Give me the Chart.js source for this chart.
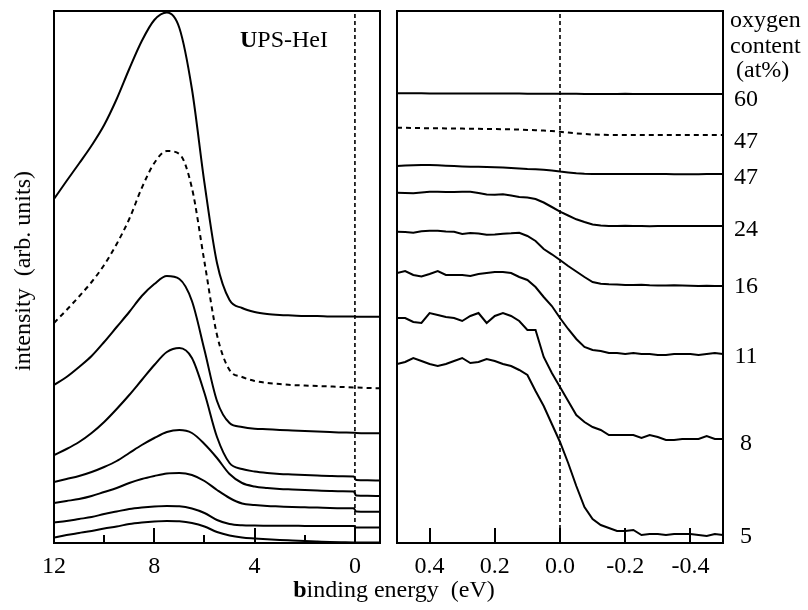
<!DOCTYPE html>
<html>
<head>
<meta charset="utf-8">
<script src="https://cdn.jsdelivr.net/npm/chart.js@4.4.4/dist/chart.umd.min.js"></script>
<style>
  body { margin: 0; background: #fff; width: 808px; height: 610px; position: relative; overflow: hidden;
         font-family: "Liberation Serif", "Times New Roman", serif; color: #000; }
  canvas { position: absolute; top: 0; }
  #chart-hei { left: 0; }
  #chart-fermi { left: 390px; }
  .txt { position: absolute; font-size: 24px; line-height: 1; white-space: pre; }
</style>
</head>
<body>
<canvas id="chart-hei" width="390" height="610"></canvas>
<canvas id="chart-fermi" width="418" height="610"></canvas>

<div class="txt" style="left:240px;top:27px"><b>U</b>PS-HeI</div>
<div class="txt" style="left:730px;top:7px">oxygen</div>
<div class="txt" style="left:730px;top:33px">content</div>
<div class="txt" style="left:736px;top:57px">(at%)</div>
<div class="txt" style="left:394px;top:577px;transform:translateX(-50%)"><b>b</b>inding energy  (eV)</div>
<div class="txt" style="left:22px;top:271px;transform:translate(-50%,-50%) rotate(-90deg)">intensity  (arb. units)</div>

<script>
// wide scan (UPS-HeI), binding energy in eV
const heiEnergy = [12, 11.5, 11, 10.5, 10, 9.5, 9, 8.5, 8, 7.5, 7, 6.5, 6, 5.5, 5, 4.5, 4, 3.5, 3, 2.5, 2, 1.5, 1, 0.5, 0.05, -0.05, -0.5, -1];
const hei60  = [344, 362, 379.5, 397.5, 418, 444, 474, 502, 523, 530.5, 515, 454, 360, 280, 243, 235, 231, 229, 228, 227.5, 227, 227, 226.5, 226.5, 226.5, 226.3, 226.3, 226.3];
const hei47d = [220, 233, 246.5, 261, 278, 299, 324, 355, 380, 392, 389, 355, 281, 208, 173, 166, 162, 160, 159, 158, 157.5, 157, 156.5, 156, 155.5, 155.5, 155, 154.7];
const hei47  = [158, 166, 176, 187, 201, 216, 231, 247, 259, 267, 264, 242, 193, 142, 120, 116, 114.3, 113.7, 113, 112.5, 112, 111.5, 111, 110.5, 110.3, 110, 109.7, 109.7];
const hei24  = [88, 94, 101, 110, 121, 134, 148, 163, 178, 191, 195, 185, 150, 106, 80, 74, 71.5, 70, 69, 68.5, 68, 67.5, 67, 66.7, 66.5, 63, 62.7, 62.5];
const hei16  = [61, 64, 67, 71, 76, 82, 90, 98, 105, 111, 113, 110, 99, 85, 69, 60, 56.5, 55, 54, 53.5, 53, 52.5, 52, 51.7, 51.5, 47.5, 47.2, 47];
const hei11  = [40, 42, 44, 47, 51, 55, 60, 64, 67, 69.5, 70, 68, 62, 53, 45, 39.5, 38, 37, 36.5, 36, 35.7, 35.4, 35, 34.8, 34.7, 31.5, 31.3, 31.3];
const hei8   = [20.5, 22, 24, 26, 29, 31.5, 34, 35.5, 36.5, 37, 36.7, 34.5, 30, 23, 19, 17.7, 17.4, 17.3, 17.2, 17.2, 17.1, 17.1, 17, 17, 17, 15.5, 15.5, 15.5];
const hei5   = [5.5, 8, 10, 12, 14.5, 16.5, 19, 20.5, 21.5, 22, 21.7, 20, 16.5, 11, 7.5, 5.5, 4.5, 3.7, 3, 2.5, 2, 1.5, 1, 0.7, 0.5, 0.5, 0.5, 0.5];

// Fermi edge region
const fermiEnergy = [0.5, 0.475, 0.45, 0.425, 0.4, 0.375, 0.35, 0.325, 0.3, 0.275, 0.25, 0.225, 0.2, 0.175, 0.15, 0.125, 0.1, 0.075, 0.05, 0.025, 0,
  -0.025, -0.05, -0.075, -0.1, -0.125, -0.15, -0.175, -0.2, -0.225, -0.25, -0.275, -0.3, -0.325, -0.35, -0.375, -0.4, -0.425, -0.45, -0.475, -0.5];
const fermi60  = [449.7, 449.7, 449.8, 449.7, 449.6, 449.5, 449.5, 449.6, 449.6, 449.5, 449.5, 449.4, 449.4, 449.5, 449.5, 449.4, 449.3, 449.3, 449.3, 449.2, 449.2,
  449.2, 449.2, 449.1, 449, 449, 449, 449.1, 449.2, 449.1, 449.1, 449, 449, 449, 449.1, 449.1, 449, 448.9, 448.9, 449, 449];
const fermi47d = [415.3, 415.2, 415, 414.9, 414.8, 414.7, 414.6, 414.5, 414.4, 414.3, 414.2, 414, 413.9, 413.8, 413.6, 413.4, 413.1, 412.8, 412.4, 412, 411.2,
  410.4, 409.6, 409, 408.5, 408.2, 408, 408, 408, 408, 408, 408, 408, 408, 408, 408, 408, 408, 408, 408, 408];
const fermi47  = [377, 377.5, 377.8, 378, 378, 377.7, 377.3, 377, 376.6, 376.3, 376.2, 376, 375.8, 375.5, 375, 374.5, 374, 373.7, 373.3, 372.6, 371.5,
  370.6, 369.8, 369.3, 369, 369, 369, 369, 369, 369, 369, 369, 369, 369, 368.8, 368.8, 368.8, 368.8, 369, 369, 369];
const fermi24  = [350.3, 350, 349.7, 350.5, 351.3, 351.2, 351, 351, 351.2, 351.3, 350, 348.5, 348.3, 348.8, 347.5, 346, 345.5, 344, 340.5, 336, 331.3,
  327.5, 323.7, 321, 318.5, 317.5, 317, 317, 317.3, 317, 317, 316.8, 317, 317, 317, 317, 317, 317, 317, 317, 317];
const fermi16  = [311.3, 311, 310.3, 311.8, 312.2, 312.3, 311.5, 311.3, 309, 310, 309.5, 308.3, 308.5, 309.3, 309.7, 310.3, 307, 302, 294, 288.7, 283,
  277, 271.5, 266, 261, 259.3, 258.7, 258.5, 258, 258, 258.3, 257.8, 257.5, 257.5, 257.8, 257.5, 257.3, 257, 257.2, 257, 257];
const fermi11  = [270, 272, 268, 266.5, 269, 272, 268, 268, 268, 267, 269, 270, 271, 271, 270, 266, 263, 256, 246, 237, 225,
  214, 204, 196, 193, 192, 190, 190, 189, 190, 189, 189, 188, 188, 189, 189, 189, 188, 189, 190, 189];
const fermi8   = [225, 225, 221, 220, 230, 228, 226, 225, 222, 227, 230, 220, 227, 230, 227, 222, 213, 213, 186, 170, 156,
  142, 128, 121, 116, 113, 108, 108, 108, 108, 105, 108, 106, 103, 103, 104, 104, 104, 107, 104, 104];
const fermi5   = [179, 181, 185, 182, 179, 177, 179, 182, 185, 180, 181, 184, 182, 179, 177, 173, 168, 152, 137, 119, 101,
  80, 57, 36, 24, 18, 15, 12, 12, 13, 8, 9, 9, 8, 9, 9, 9, 8, 7, 9, 8];

const heiTicks = [12, 8, 4, 0];
const heiTickLabels = ['12', '8', '4', '0'];
const heiMinor = [10, 6, 2];
const fermiTicks = [0.4, 0.2, 0, -0.2, -0.4];
const fermiTickLabels = ['0.4', '0.2', '0.0', '-0.2', '-0.4'];
const oxygenLabels = ['60', '47', '47', '24', '16', '11', '8', '5'];
const oxygenLevels = [443, 401.5, 365, 313, 256, 186, 99, 6];
const intensityMax = 532;

const SERIF = '"Liberation Serif", "Times New Roman", serif';
Chart.defaults.font.family = SERIF;
Chart.defaults.color = '#000';

function curve(xs, ys, dash, smooth) {
  return {
    data: xs.map((x, i) => ({ x, y: ys[i] })),
    borderColor: '#000',
    borderWidth: 2,
    borderDash: dash || [],
    pointRadius: 0,
    fill: false,
    cubicInterpolationMode: smooth ? 'monotone' : 'default',
    tension: 0,
  };
}

function fermiLevel() {
  return {
    data: [{ x: 0, y: 0 }, { x: 0, y: intensityMax }],
    borderColor: '#000',
    borderWidth: 1.6,
    borderDash: [4, 3],
    pointRadius: 0,
  };
}

// frame box + inward ticks on the bottom axis
const framePlugin = {
  id: 'frame',
  afterDatasetsDraw(chart, args, opts) {
    const { ctx, chartArea: a } = chart;
    const x = chart.scales.x;
    ctx.save();
    ctx.strokeStyle = '#000';
    ctx.lineWidth = 2;
    ctx.strokeRect(a.left, a.top, a.right - a.left, a.bottom - a.top);
    ctx.beginPath();
    (opts.major || []).forEach(v => {
      const px = Math.round(x.getPixelForValue(v));
      ctx.moveTo(px, a.bottom); ctx.lineTo(px, a.bottom - 15);
    });
    (opts.minor || []).forEach(v => {
      const px = Math.round(x.getPixelForValue(v));
      ctx.moveTo(px, a.bottom); ctx.lineTo(px, a.bottom - 8);
    });
    ctx.stroke();
    ctx.restore();
  },
};

const xAxis = (min, max, ticks, labels) => ({
  type: 'linear',
  min, max,
  reverse: true,
  grid: { display: false, drawTicks: false },
  border: { display: false },
  afterBuildTicks: s => { s.ticks = ticks.map(v => ({ value: v })); },
  afterFit: s => { s.height = 67; s.paddingLeft = 0; s.paddingRight = 0; },
  ticks: {
    autoSkip: false,
    maxRotation: 0,
    padding: 9,
    font: { size: 24, family: SERIF },
    callback: (v, i) => labels[i],
  },
});

new Chart(document.getElementById('chart-hei'), {
  type: 'line',
  data: {
    datasets: [
      curve(heiEnergy, hei60, null, true),
      curve(heiEnergy, hei47d, [5, 4], true),
      curve(heiEnergy, hei47, null, true),
      curve(heiEnergy, hei24, null, true),
      curve(heiEnergy, hei16, null, true),
      curve(heiEnergy, hei11, null, true),
      curve(heiEnergy, hei8, null, true),
      curve(heiEnergy, hei5, null, true),
      fermiLevel(),
    ],
  },
  options: {
    responsive: false,
    animation: false,
    layout: { padding: { left: 54, right: 10, top: 11, bottom: 0 } },
    plugins: { legend: { display: false }, tooltip: { enabled: false }, frame: { major: heiTicks, minor: heiMinor } },
    scales: {
      x: xAxis(-1, 12, heiTicks, heiTickLabels),
      y: { type: 'linear', min: 0, max: intensityMax, display: false },
    },
  },
  plugins: [framePlugin],
});

new Chart(document.getElementById('chart-fermi'), {
  type: 'line',
  data: {
    datasets: [
      curve(fermiEnergy, fermi60),
      curve(fermiEnergy, fermi47d, [5, 4]),
      curve(fermiEnergy, fermi47),
      curve(fermiEnergy, fermi24),
      curve(fermiEnergy, fermi16),
      curve(fermiEnergy, fermi11),
      curve(fermiEnergy, fermi8),
      curve(fermiEnergy, fermi5),
      fermiLevel(),
    ],
  },
  options: {
    responsive: false,
    animation: false,
    layout: { padding: { left: 7, right: 0, top: 11, bottom: 0 } },
    plugins: { legend: { display: false }, tooltip: { enabled: false }, frame: { major: fermiTicks } },
    scales: {
      x: xAxis(-0.5, 0.5, fermiTicks, fermiTickLabels),
      y: {
        type: 'linear',
        position: 'right',
        min: 0, max: intensityMax,
        grid: { display: false, drawTicks: false },
        border: { display: false },
        afterBuildTicks: s => { s.ticks = oxygenLevels.map(v => ({ value: v })); },
        afterFit: s => { s.width = 85; s.paddingTop = 0; s.paddingBottom = 0; },
        ticks: {
          autoSkip: false,
          padding: 11,
          crossAlign: 'center',
          font: { size: 24, family: SERIF },
          callback: (v, i) => oxygenLabels[i],
        },
      },
    },
  },
  plugins: [framePlugin],
});
</script>
</body>
</html>
